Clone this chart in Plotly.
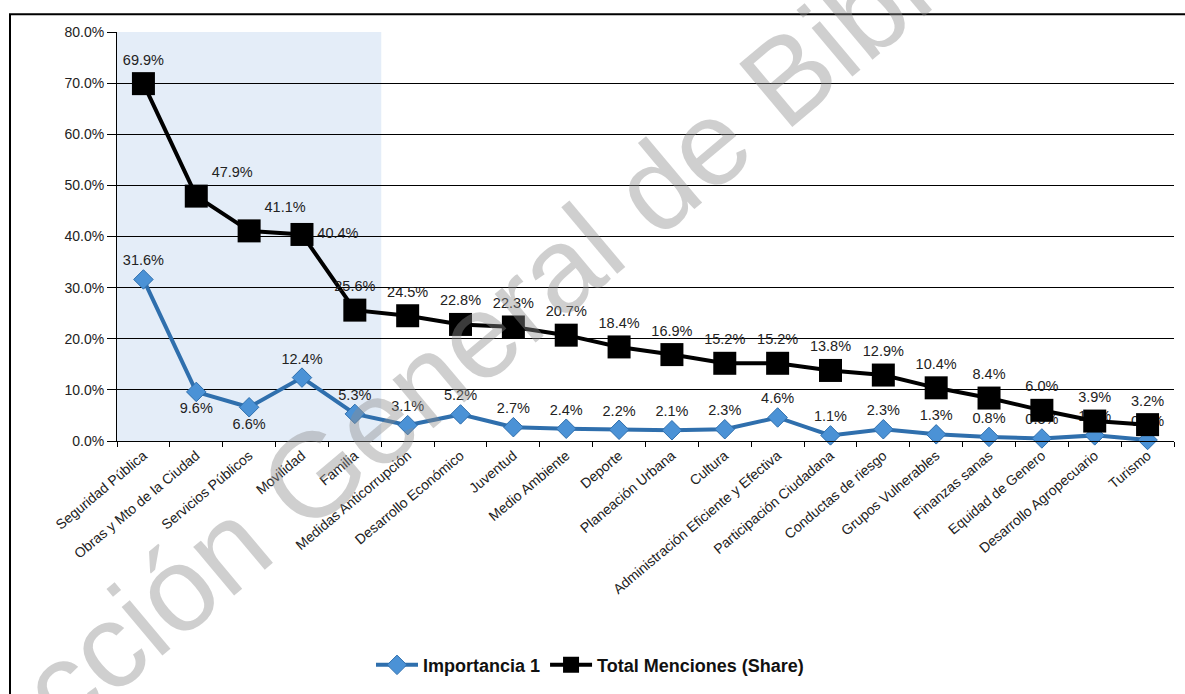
import plotly.graph_objects as go

categories = ["Seguridad Pública", "Obras y Mto de la Ciudad", "Servicios Públicos", "Movilidad",
              "Familia", "Medidas Anticorrupción", "Desarrollo Económico", "Juventud",
              "Medio Ambiente", "Deporte", "Planeación Urbana", "Cultura",
              "Administración Eficiente y Efectiva", "Participación Ciudadana",
              "Conductas de riesgo", "Grupos Vulnerables", "Finanzas sanas",
              "Equidad de Genero", "Desarrollo Agropecuario", "Turismo"]
importancia_1 = [31.6, 9.6, 6.6, 12.4, 5.3, 3.1, 5.2, 2.7, 2.4, 2.2, 2.1, 2.3, 4.6, 1.1, 2.3,
                 1.3, 0.8, 0.5, 1.1, 0.2]
total_menciones = [69.9, 47.9, 41.1, 40.4, 25.6, 24.5, 22.8, 22.3, 20.7, 18.4, 16.9, 15.2, 15.2,
                   13.8, 12.9, 10.4, 8.4, 6.0, 3.9, 3.2]
y_ticks = [0, 0.1, 0.2, 0.3, 0.4, 0.5, 0.6, 0.7, 0.8]

imp_pos = ["top center", "bottom center", "bottom center"] + ["top center"] * 17
tot_pos = ["top center", "top right", "top right", "middle right"] + ["top center"] * 16

FONT = "Liberation Sans, Arial, sans-serif"

fig = go.Figure()
fig.add_trace(go.Scatter(
    x=categories, y=[v / 100 for v in importancia_1], name="Importancia 1",
    mode="lines+markers+text",
    text=[f"{v:.1f}%" for v in importancia_1], textposition=imp_pos,
    textfont=dict(size=14.5, color="#222", family=FONT),
    line=dict(color="#2f6fad", width=4),
    marker=dict(symbol="diamond", size=15, color="#4b92d6", line=dict(color="#2f6fad", width=1)),
    cliponaxis=False,
))
fig.add_trace(go.Scatter(
    x=categories, y=[v / 100 for v in total_menciones], name="Total Menciones (Share)",
    mode="lines+markers+text",
    text=[f"{v:.1f}%" for v in total_menciones], textposition=tot_pos,
    textfont=dict(size=14.5, color="#222", family=FONT),
    line=dict(color="#000000", width=4),
    marker=dict(symbol="square", size=23, color="#000000"),
    cliponaxis=False,
))

W, H = 1185, 694
L, R, T, B = 117, 11, 32, 246
pw, ph = W - L - R, H - T - B

def px_x(p):
    return (p - L) / pw

def px_y(p):
    return (H - B - p) / ph

shapes = [
    dict(type="rect", xref="x", yref="y", x0=-0.5, x1=4.5, y0=0, y1=0.8,
         fillcolor="#e4edf8", line=dict(width=0), layer="below"),
    dict(type="rect", xref="paper", yref="paper", x0=px_x(10), x1=px_x(1200),
         y0=px_y(710), y1=px_y(14), line=dict(color="#000", width=2), fillcolor="rgba(0,0,0,0)"),
]

fig.update_layout(
    width=W, height=H,
    margin=dict(l=L, r=R, t=T, b=B),
    paper_bgcolor="white", plot_bgcolor="rgba(0,0,0,0)",
    font=dict(family=FONT, color="#222", size=14),
    shapes=shapes,
    showlegend=True,
    legend=dict(orientation="h", x=px_x(590), xanchor="center", y=px_y(676), yanchor="middle",
                font=dict(size=18, color="#111", family=FONT, weight="bold"),
                itemwidth=42, traceorder="normal"),
    xaxis=dict(tickangle=-40, showgrid=False, showline=True, linecolor="#000", linewidth=1,
               ticks="outside", tickson="boundaries", ticklen=5, tickcolor="#000",
               tickfont=dict(size=14, color="#222"), range=[-0.5, 19.5]),
    yaxis=dict(range=[0, 0.8], tickvals=y_ticks, tickformat=".1%", showgrid=True,
               gridcolor="#000", gridwidth=1, showline=True, linecolor="#000", linewidth=1,
               ticks="outside", ticklen=9, tickcolor="#000", zeroline=False,
               tickfont=dict(size=14, color="#222")),
    annotations=[dict(text="Dirección General de Bibliotecas", xref="paper", yref="paper",
                      x=px_x(535), y=px_y(292), showarrow=False, textangle=-40,
                      font=dict(size=120, color="rgba(140,140,140,0.42)", family=FONT))],
)

fig.write_html("out.html")
